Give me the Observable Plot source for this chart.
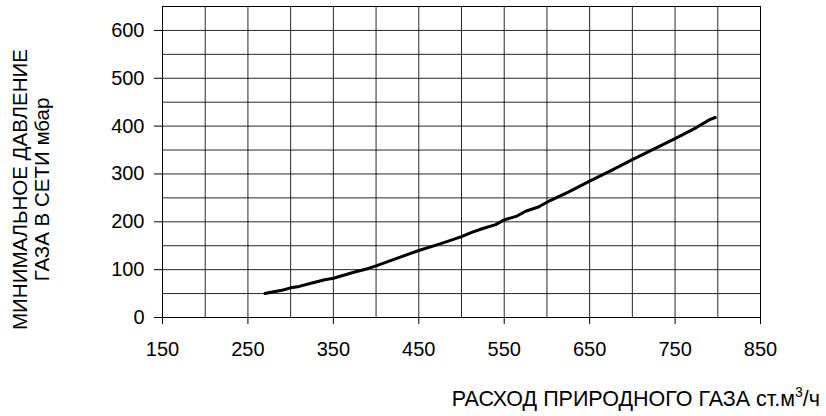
<!DOCTYPE html>
<html>
<head>
<meta charset="utf-8">
<script src="https://cdn.jsdelivr.net/npm/d3@7"></script>
<script src="https://cdn.jsdelivr.net/npm/@observablehq/plot@0.6"></script>
<style>
  html, body { margin: 0; padding: 0; background: #fff; }
  #chart { width: 826px; height: 416px; }
</style>
</head>
<body>
<div id="chart"></div>
<script>
// Flow rate of natural gas (st.m3/h) and minimal network pressure (mbar)
const flow = [270, 280, 290, 300, 310, 325, 340, 350, 365, 375, 390, 400, 425, 450, 475, 500, 512, 525, 540, 550, 565, 575, 590, 600, 625, 650, 675, 700, 725, 750, 775, 790, 797];
const pressure = [50, 54, 57, 62, 65, 72, 79, 82, 90, 95, 102, 108, 124, 140, 154, 169, 178, 186, 194, 204, 212, 222, 231, 241, 262, 285, 307, 330, 352, 374, 397, 413, 418];

const xTicks = [150, 250, 350, 450, 550, 650, 750, 850];
const yTicks = [0, 100, 200, 300, 400, 500, 600];
const xGrid = d3.range(150, 851, 50);
const yGrid = d3.range(0, 651, 50);

const yLabel1 = "МИНИМАЛЬНОЕ ДАВЛЕНИЕ";
const yLabel2 = "ГАЗА В СЕТИ мбар";
const xLabel = "РАСХОД ПРИРОДНОГО ГАЗА ст.м";
const xLabelSup = "3";
const xLabelTail = "/ч";

const data = flow.map((f, i) => ({flow: f, pressure: pressure[i]}));

const chart = Plot.plot({
  width: 826,
  height: 416,
  marginLeft: 162,
  marginRight: 66,
  marginTop: 6,
  marginBottom: 99,
  style: {fontFamily: "'Liberation Sans', Arial, sans-serif", fontSize: "20px", background: "#fff", color: "#000"},
  x: {domain: [150, 850]},
  y: {domain: [0, 650]},
  marks: [
    Plot.gridX(xGrid, {stroke: "#000", strokeOpacity: 0.85, strokeWidth: 1}),
    Plot.gridY(yGrid, {stroke: "#000", strokeOpacity: 0.85, strokeWidth: 1}),
    Plot.frame({stroke: "#000", strokeWidth: 1}),
    Plot.axisX({ticks: xTicks, tickSize: 7, tickPadding: 17, fontSize: 20, label: null, stroke: "#000"}),
    Plot.axisY({ticks: yTicks, tickSize: 8, tickPadding: 10, fontSize: 20, label: null, stroke: "#000"}),
    Plot.line(data, {x: "flow", y: "pressure", stroke: "#000", strokeWidth: 3, strokeLinejoin: "round", strokeLinecap: "round"})
  ]
});

document.getElementById("chart").appendChild(chart);

const svg = d3.select(chart);
const labels = svg.append("g")
  .attr("font-family", "'Liberation Sans', Arial, sans-serif")
  .attr("fill", "#000");

labels.append("text")
  .attr("transform", "translate(26.5,189.5) rotate(-90)")
  .attr("text-anchor", "middle")
  .attr("font-size", 20.5)
  .text(yLabel1);
labels.append("text")
  .attr("transform", "translate(49,189.5) rotate(-90)")
  .attr("text-anchor", "middle")
  .attr("font-size", 20.5)
  .text(yLabel2);

const xl = labels.append("text")
  .attr("x", 820)
  .attr("y", 406)
  .attr("font-size", 21.5)
  .attr("text-anchor", "end");
xl.append("tspan").text(xLabel);
xl.append("tspan").attr("dy", -9).attr("font-size", 14).text(xLabelSup);
xl.append("tspan").attr("dy", 9).text(xLabelTail);
</script>
</body>
</html>
